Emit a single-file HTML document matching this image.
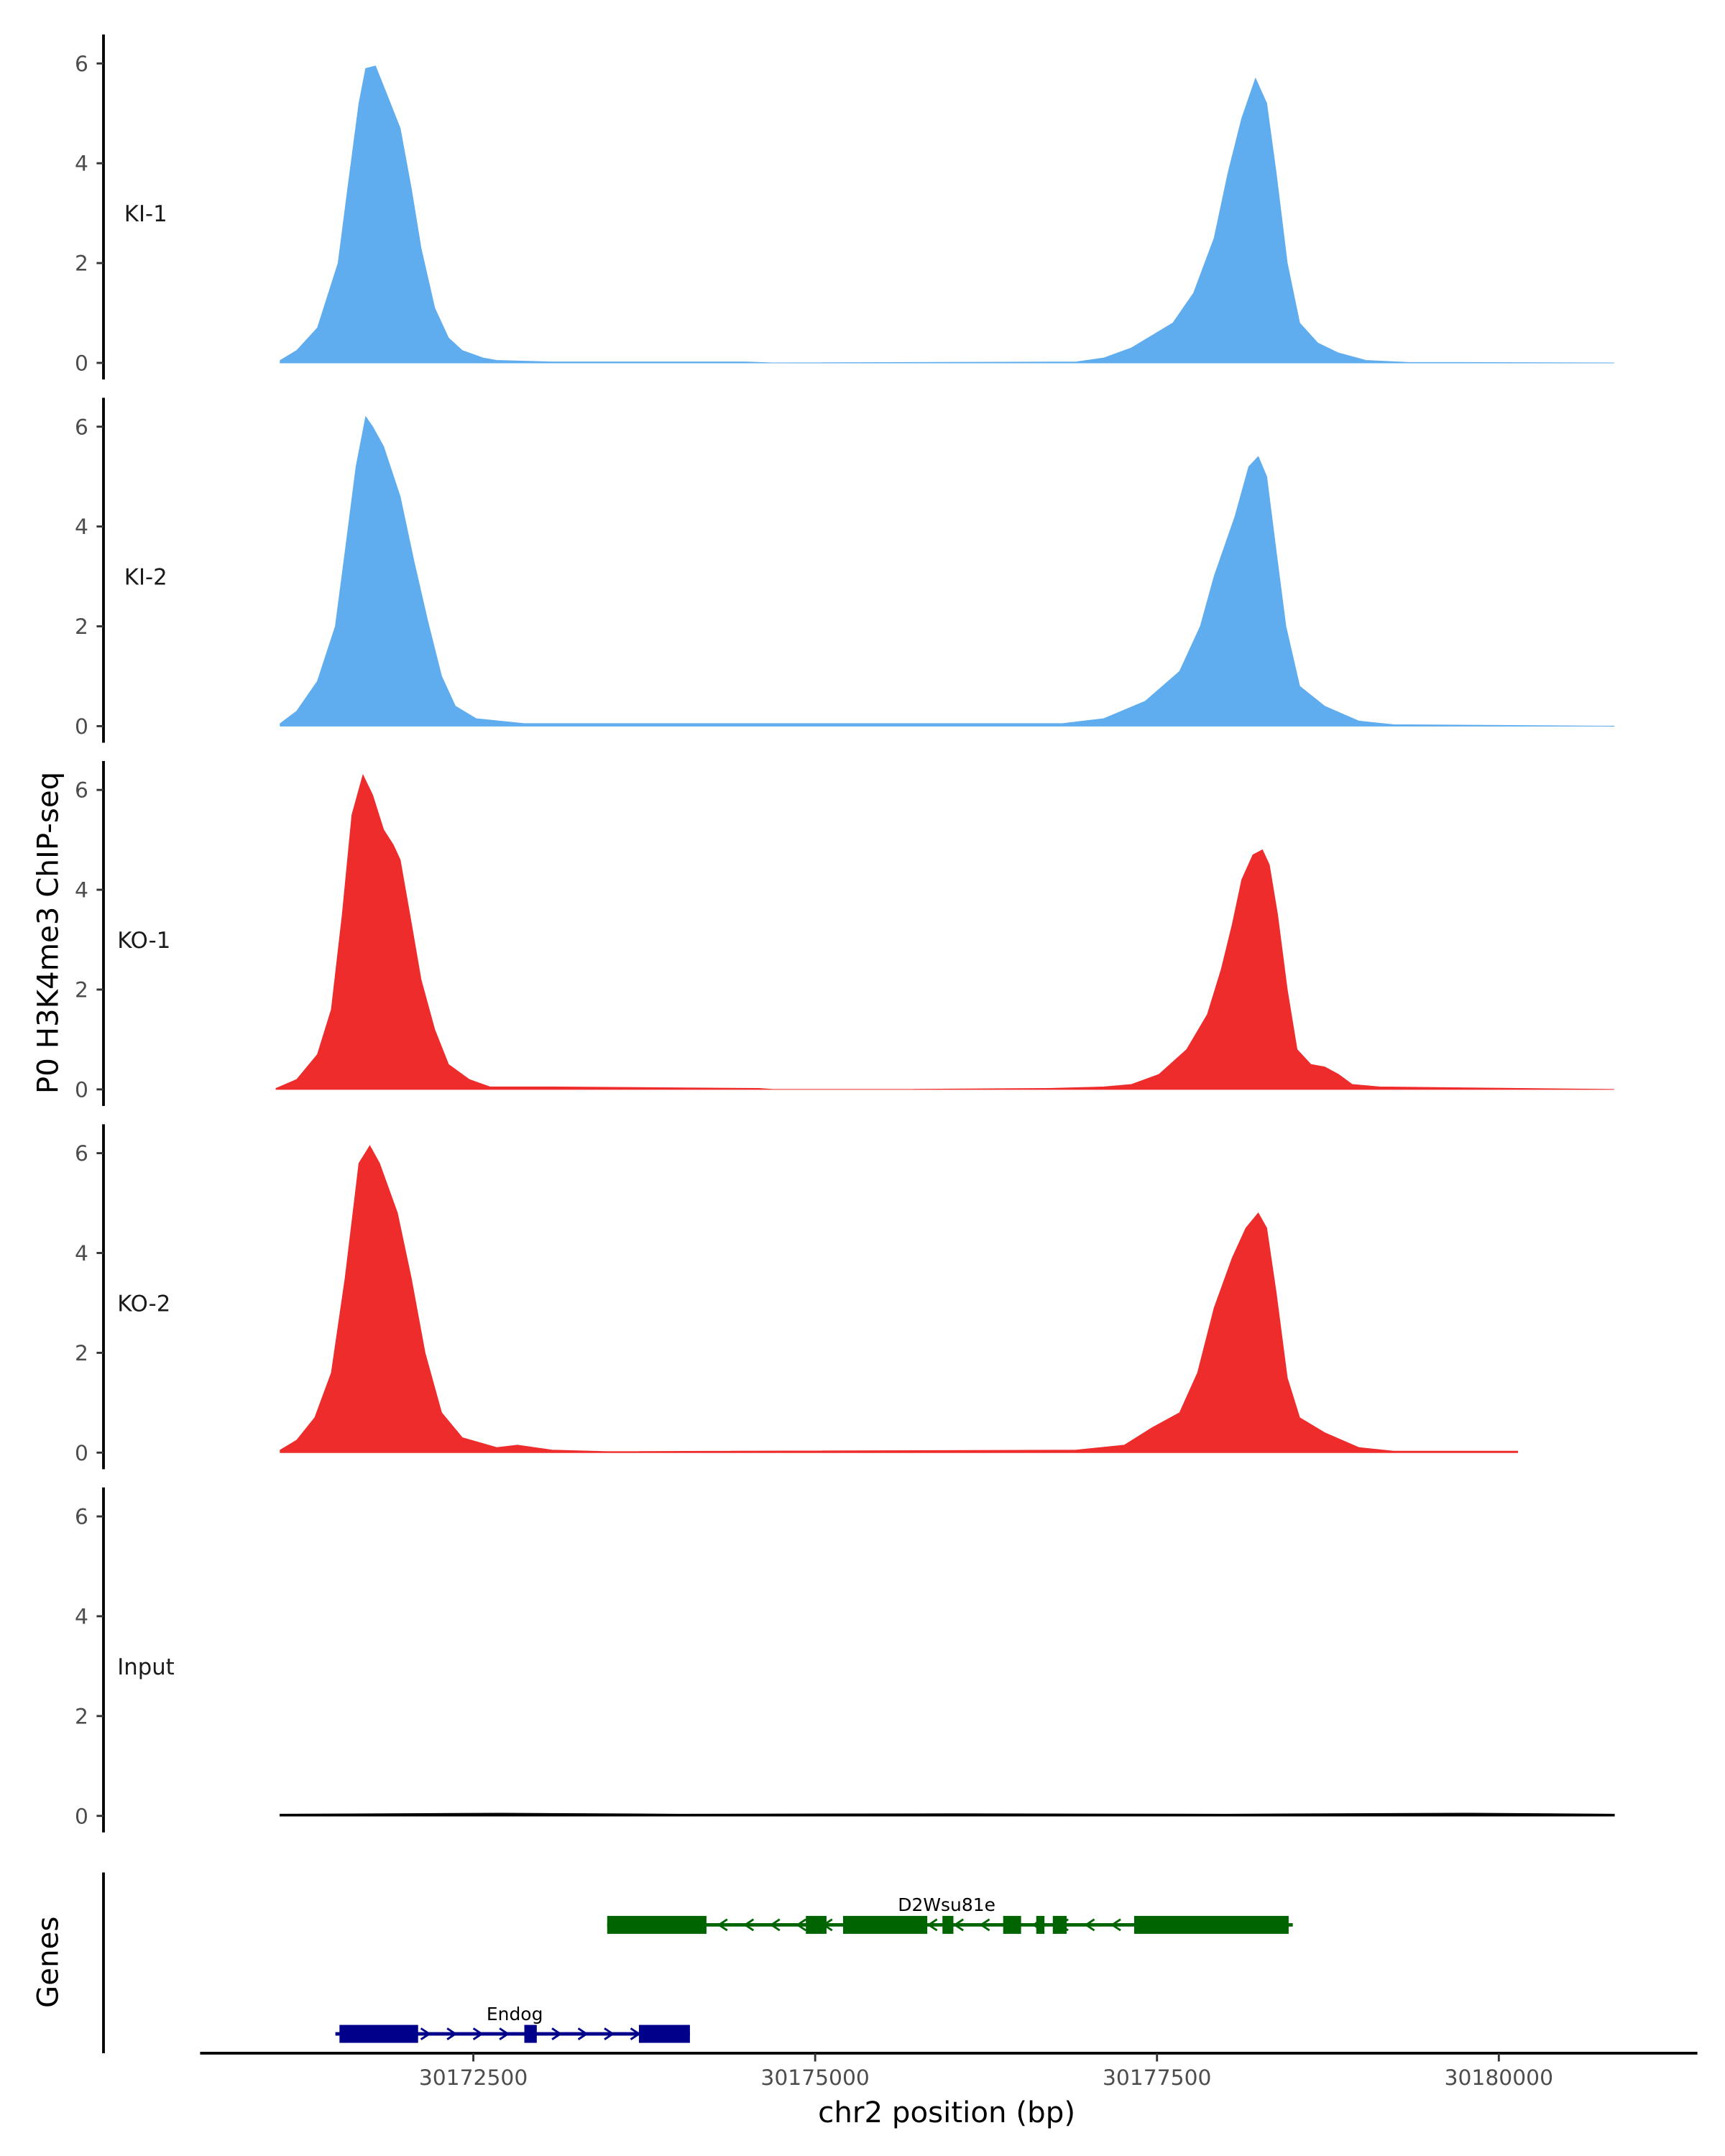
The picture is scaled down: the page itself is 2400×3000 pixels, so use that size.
<!DOCTYPE html>
<html><head><meta charset="utf-8"><style>html,body{margin:0;padding:0;background:#fff}svg{display:block}</style></head>
<body>
<svg id="chart" width="2400" height="3000" viewBox="0 0 1250 1562.5" xmlns="http://www.w3.org/2000/svg" font-family="'DejaVu Sans', 'Liberation Sans', sans-serif"></svg>
<script>
// ---- data ----
const trackNames = ["KI-1","KI-2","KO-1","KO-2","Input"];
const trackColors = ["#5fadee","#5fadee","#ee2c2c","#ee2c2c","#000000"];
const yTicks = [0,2,4,6];
const xTicks = [30172500,30175000,30177500,30180000];
const ki1Pos = [30171087,30171208,30171360,30171511,30171582,30171663,30171713,30171784,30171864,30171965,30172046,30172117,30172217,30172318,30172419,30172571,30172672,30173075,30174488,30174690,30176909,30177111,30177313,30177616,30177767,30177918,30178019,30178120,30178221,30178302,30178372,30178453,30178544,30178675,30178827,30179028,30179331,30180844];
const ki1Val = [0.05,0.25,0.7,2.0,3.5,5.2,5.9,5.95,5.4,4.7,3.5,2.3,1.1,0.5,0.25,0.1,0.05,0.02,0.02,0,0.02,0.1,0.3,0.8,1.4,2.5,3.8,4.9,5.7,5.2,3.8,2.0,0.8,0.4,0.2,0.05,0.01,0];
const ki2Pos = [30171087,30171208,30171360,30171491,30171562,30171642,30171713,30171763,30171844,30171965,30172066,30172167,30172268,30172369,30172520,30172873,30173277,30176808,30177111,30177414,30177666,30177817,30177918,30178070,30178171,30178241,30178302,30178372,30178443,30178544,30178726,30178978,30179230,30180844];
const ki2Val = [0.05,0.3,0.9,2.0,3.5,5.2,6.2,6.0,5.6,4.6,3.3,2.1,1.0,0.4,0.15,0.05,0.05,0.05,0.15,0.5,1.1,2.0,3.0,4.2,5.2,5.4,5.0,3.5,2.0,0.8,0.4,0.1,0.03,0];
const ko1Pos = [30171057,30171208,30171360,30171461,30171541,30171612,30171693,30171763,30171844,30171915,30171965,30172036,30172117,30172217,30172318,30172470,30172621,30173075,30174589,30174690,30175598,30176708,30177111,30177313,30177515,30177717,30177868,30177969,30178050,30178120,30178201,30178271,30178322,30178382,30178453,30178524,30178625,30178726,30178827,30178927,30179129,30180844];
const ko1Val = [0.02,0.2,0.7,1.6,3.5,5.5,6.3,5.9,5.2,4.9,4.6,3.5,2.2,1.2,0.5,0.2,0.05,0.05,0.02,0,0,0.02,0.05,0.1,0.3,0.8,1.5,2.4,3.3,4.2,4.7,4.8,4.5,3.5,2.0,0.8,0.5,0.45,0.3,0.1,0.05,0];
const ko2Pos = [30171087,30171208,30171340,30171461,30171562,30171663,30171743,30171814,30171945,30172046,30172147,30172268,30172419,30172672,30172823,30173075,30173479,30176909,30177262,30177464,30177666,30177797,30177918,30178050,30178150,30178241,30178302,30178372,30178453,30178544,30178726,30178978,30179230,30180138];
const ko2Val = [0.05,0.25,0.7,1.6,3.5,5.8,6.15,5.8,4.8,3.5,2.0,0.8,0.3,0.1,0.15,0.05,0.02,0.05,0.15,0.5,0.8,1.6,2.9,3.9,4.5,4.8,4.5,3.2,1.5,0.7,0.4,0.1,0.03,0.03];
const inputPos = [30171087,30172700,30174000,30176000,30178000,30179800,30180844];
const inputVal = [0.03,0.05,0.03,0.04,0.03,0.05,0.03];
const trackPos = [ki1Pos,ki2Pos,ko1Pos,ko2Pos,inputPos];
const trackVal = [ki1Val,ki2Val,ko1Val,ko2Val,inputVal];
const genes = ["D2Wsu81e","Endog"];
const geneStart = [30173479,30171491];
const geneEnd = [30178493,30174084];
const geneStrand = [-1,1];
const geneExonStart = [[30173479,30174932,30175204,30175931,30176375,30176617,30176738,30177333],[30171521,30172873,30173711]];
const geneExonEnd = [[30174205,30175083,30175820,30176011,30176506,30176677,30176839,30178463],[30172096,30172964,30174084]];
const geneColors = ["#006400","#00008b"];

// ---- scales ----
const svg = document.getElementById('chart');
const NS = "http://www.w3.org/2000/svg";
function xs(bp){ return 343 + (bp - 30172500) * 0.09908; }
const panelTop0 = 263, panelStep = 263.25, unit = 36.17;
function ys(i, v){ return panelTop0 + i*panelStep - v*unit; }
function mk(tag, attrs, parent){
  const e = document.createElementNS(NS, tag);
  for (const k in attrs) e.setAttribute(k, attrs[k]);
  (parent||svg).appendChild(e); return e;
}
function txt(str, attrs, parent){ const t = mk('text', attrs, parent); t.textContent = str; return t; }

// ---- tracks ----
trackNames.forEach((name, i) => {
  const g = mk('g', {});
  
  
  const base = ys(i, 0);
  const ax = mk('line', {x1:75, x2:75, y1:base-238, y2:base+12, stroke:'#000', 'stroke-width':2}, g);
  
  
  yTicks.forEach(t => {
    const y = ys(i, t);
    const tk = mk('line', {x1:70, x2:75, y1:y, y2:y, stroke:'#333', 'stroke-width':1.5}, g);
    
    
    const tl = txt(String(t), {x:64, y:y+5.5, 'text-anchor':'end', 'font-size':15.5, fill:'#4d4d4d'}, g);
    
    
  });
  const lab = txt(name, {x:name==='Input'||name.startsWith('KO')?85:90, y:ys(i,3)+6, 'font-size':16, fill:'#1a1a1a'}, g);
  
  
  const P = trackPos[i], V = trackVal[i];
  let d = 'M' + xs(P[0]).toFixed(1) + ',' + base;
  for (let k=0;k<P.length;k++) d += ' L' + xs(P[k]).toFixed(1) + ',' + ys(i, V[k]).toFixed(1);
  d += ' L' + xs(P[P.length-1]).toFixed(1) + ',' + base + ' Z';
  const area = mk('path', {d:d, fill:trackColors[i], stroke:trackColors[i], 'stroke-width': i===4?0.8:0.5}, g);
  
  
});

// y axis title
const yt = txt('P0 H3K4me3 ChIP-seq', {x:0, y:0, 'font-size':21, fill:'#000', 'text-anchor':'middle', transform:'translate(42,676) rotate(-90)'});



// ---- genes panel ----
const gp = mk('g', {});


const gax = mk('line', {x1:75, x2:75, y1:1357, y2:1488, stroke:'#000', 'stroke-width':2}, gp);


const gt = txt('Genes', {x:0, y:0, 'font-size':21, fill:'#000', 'text-anchor':'middle', transform:'translate(42,1422) rotate(-90)'}, gp);


const geneY = [1395, 1474];
genes.forEach((gname, gi) => {
  const gg = mk('g', {}, gp);
  
  
  const y = geneY[gi], c = geneColors[gi];
  const x1 = xs(geneStart[gi]), x2 = xs(geneEnd[gi]);
  mk('line', {x1:x1, x2:x2, y1:y, y2:y, stroke:c, 'stroke-width':2.5}, gg);
  for (let ax=x1+8; ax<x2-4; ax+=19) {
    const s = geneStrand[gi]*3;
    const ar = mk('path', {d:`M${ax-s},${y-4} L${ax+s},${y} L${ax-s},${y+4}`, fill:'none', stroke:c, 'stroke-width':1.5}, gg);
    
    
  }
  geneExonStart[gi].forEach((es, k) => {
    const ex = mk('rect', {x:xs(es), y:y-6.5, width:Math.max(2, xs(geneExonEnd[gi][k]) - xs(es)), height:13, fill:c}, gg);
    
    
  });
  const gl = txt(gname, {x:(gi===0?686:373), y:y-10, 'text-anchor':'middle', 'font-size':13, fill:'#000'}, gg);
  
  
});

// ---- x axis ----
const xa = mk('line', {x1:145, x2:1230, y1:1488, y2:1488, stroke:'#000', 'stroke-width':2});


xTicks.forEach(t => {
  const x = xs(t);
  const tk = mk('line', {x1:x, x2:x, y1:1488, y2:1494, stroke:'#333', 'stroke-width':1.5});
  
  
  const tl = txt(String(t), {x:x, y:1511, 'text-anchor':'middle', 'font-size':15.5, fill:'#4d4d4d'});
  
  
});
const xt = txt('chr2 position (bp)', {x:686, y:1538, 'text-anchor':'middle', 'font-size':21, fill:'#000'});


</script>
</body></html>
